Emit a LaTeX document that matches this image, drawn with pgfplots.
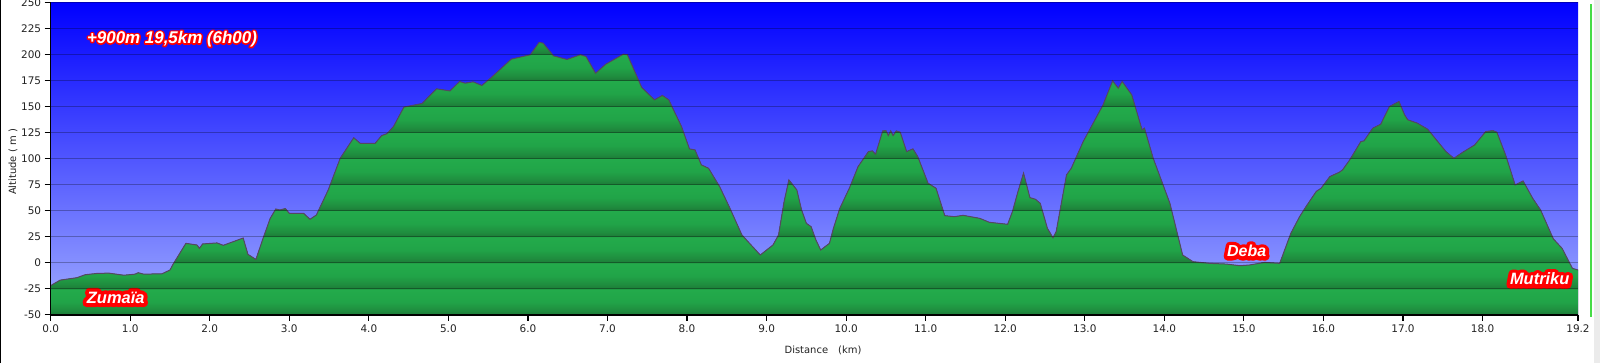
\documentclass[border=0pt]{standalone}
\usepackage{pgfplots}
\pgfplotsset{compat=1.18}
\usepackage{pgfplotstable}
\usepgfplotslibrary{fillbetween}
\usepackage{fontspec}
\setmainfont{DejaVu Sans}
\newfontface\labfont{Liberation Sans Bold Italic}
\newfontface\labthin{Liberation Sans Bold Italic}[RawFeature={embolden=17}]
\newfontface\labthick{Liberation Sans Bold Italic}[RawFeature={embolden=48}]

\definecolor{skytop}{RGB}{0,0,255}
\definecolor{skybot}{RGB}{160,172,255}
\definecolor{gbright}{RGB}{35,171,75}
\definecolor{gmid}{RGB}{33,164,72}
\definecolor{gdk2}{RGB}{31,140,62}
\definecolor{gdark}{RGB}{29,122,56}
\definecolor{profline}{RGB}{85,72,95}
\definecolor{ticktext}{RGB}{34,34,34}
\definecolor{edgegreen}{RGB}{70,220,70}

% bands of 25 m mapped onto the central 25bp..75bp of the shading (range -50..211.5)
\pgfdeclareverticalshading{bands}{100bp}{color(0bp)=(gdark);
color(25bp)=(gdark); color(25.76bp)=(gdk2); color(27.39bp)=(gmid); color(29.72bp)=(gbright);
color(29.78bp)=(gdark); color(30.54bp)=(gdk2); color(32.17bp)=(gmid); color(34.50bp)=(gbright);
color(34.56bp)=(gdark); color(35.32bp)=(gdk2); color(36.95bp)=(gmid); color(39.28bp)=(gbright);
color(39.34bp)=(gdark); color(40.10bp)=(gdk2); color(41.73bp)=(gmid); color(44.06bp)=(gbright);
color(44.12bp)=(gdark); color(44.88bp)=(gdk2); color(46.51bp)=(gmid); color(48.84bp)=(gbright);
color(48.90bp)=(gdark); color(49.66bp)=(gdk2); color(51.29bp)=(gmid); color(53.62bp)=(gbright);
color(53.68bp)=(gdark); color(54.44bp)=(gdk2); color(56.07bp)=(gmid); color(58.40bp)=(gbright);
color(58.46bp)=(gdark); color(59.22bp)=(gdk2); color(60.85bp)=(gmid); color(63.18bp)=(gbright);
color(63.24bp)=(gdark); color(64.00bp)=(gdk2); color(65.63bp)=(gmid); color(67.96bp)=(gbright);
color(68.02bp)=(gdark); color(68.78bp)=(gdk2); color(70.41bp)=(gmid); color(72.74bp)=(gbright);
color(72.80bp)=(gdark); color(73.56bp)=(gdk2); color(75.19bp)=(gmid); color(77.52bp)=(gbright);
color(100bp)=(gbright)}

\pgfplotstableread{
km alt
0.00 -22
0.12 -16.7
0.33 -14.4
0.435 -11.5
0.58 -10.3
0.73 -10
0.92 -12
1.06 -11
1.10 -9.6
1.17 -11
1.40 -10.6
1.50 -7
1.54 -1.3
1.70 18.6
1.84 17
1.87 13.8
1.91 18
2.09 19
2.17 16.7
2.42 23.7
2.48 8
2.58 3.2
2.67 23.4
2.76 42.6
2.83 51.6
2.88 50.6
2.95 52
3.00 47.4
3.18 47.4
3.26 41.7
3.34 45.8
3.49 70
3.64 100.3
3.81 120
3.89 114.7
4.08 114.7
4.16 122
4.23 124
4.31 130.8
4.44 149.4
4.67 152.9
4.75 159.3
4.85 167
5.02 165
5.14 174
5.21 172.4
5.31 173.7
5.42 170.2
5.54 177.9
5.79 195.5
6.03 199.7
6.14 211.5
6.19 210.9
6.32 198.7
6.49 195.2
6.66 199.7
6.73 198
6.85 182
6.98 190.7
7.20 200.3
7.25 199.7
7.43 168.3
7.59 156.4
7.69 160.6
7.77 156.4
7.93 130.8
8.03 109.3
8.10 108.3
8.18 93.9
8.27 90.7
8.41 73
8.53 53.8
8.69 26.6
8.92 7.4
9.08 17
9.15 26.6
9.22 58.7
9.28 79.5
9.38 69.9
9.44 50.6
9.50 37.8
9.56 34.6
9.62 21.8
9.68 12.2
9.79 18.6
9.84 33
9.92 52.2
10.04 71.5
10.15 92.3
10.28 106.7
10.33 107.4
10.37 104.2
10.46 126.6
10.50 126.9
10.53 122.1
10.56 126.6
10.59 122.1
10.63 126.6
10.68 125.3
10.76 106.7
10.84 109.3
10.90 101.9
11.03 76.3
11.13 71.5
11.24 45.2
11.36 44.2
11.47 45.5
11.68 42.6
11.80 38.8
12.03 36.9
12.09 49
12.16 68.3
12.23 86
12.31 62.5
12.38 60.9
12.44 57
12.53 33
12.60 24
12.64 29.8
12.77 84.3
12.83 90.7
12.98 116.3
13.23 151.6
13.35 174.7
13.42 167.6
13.47 174
13.59 161.2
13.72 127.6
13.75 129.2
13.86 100.3
14.07 57
14.23 7.4
14.36 1
14.57 -0.6
14.78 -1.3
14.95 -2.9
15.07 -2.2
15.26 0.3
15.45 -0.6
15.59 28.2
15.70 44.2
15.78 53.8
15.91 68.5
15.97 71.5
16.08 82.7
16.20 86.9
16.24 89.1
16.33 98.7
16.47 116.3
16.51 117
16.62 129.2
16.72 133
16.83 150
16.95 154.8
17.02 142
17.06 137.2
17.18 134
17.31 128.2
17.54 106.7
17.64 100.3
17.75 106
17.90 113
18.04 125.9
18.13 126.9
18.18 125.3
18.29 103.5
18.41 74.7
18.51 78.5
18.63 61.9
18.73 50.6
18.89 22.9
19.00 13.8
19.13 -5.4
19.20 -7
}\profile

% #1 x, #2 y, #3 halo font face, #4 size, #5 text
\newcommand\halo[5]{%
  \begin{scope}
  \pgfsetroundjoin
  \pgfsetroundcap
  \node[text=red, font={#3\fontsize{#4}{20}\selectfont}, inner sep=0pt, line join=round] at (#1,#2) {#5};
  \end{scope}
  \node[text=white, font={\labfont\fontsize{#4}{20}\selectfont}, inner sep=0pt] at (#1,#2) {#5};
}

\begin{document}
\begin{tikzpicture}[x=1bp,y=1bp]
\fill[black!8] (1594,0) rectangle (1600,363);
\draw[black, line width=1.2bp] (0.6,0) -- (0.6,363);
\begin{axis}[
  at={(63.7,46.3)}, anchor=south west,
  scale only axis, width=1527.3bp, height=312.4bp,
  xmin=0, xmax=19.2, ymin=-50, ymax=250,
  axis lines*=left,
  axis line style={black, line width=1.6bp},
  axis on top,
  axis background/.style={top color=skytop, bottom color=skybot},
  xtick={0,1,...,18,19.2},
  ytick={-50,-25,...,250},
  ymajorgrids,
  major grid style={black, opacity=0.28, line width=1bp},
  tick align=outside,
  major tick length=6bp,
  tick style={black, line width=1.2bp},
  xticklabel style={/pgf/number format/.cd, fixed, fixed zerofill, precision=1},
  yticklabel style={/pgf/number format/.cd, fixed, precision=0},
  /pgf/number format/assume math mode=true,
  ticklabel style={font=\fontsize{10.5}{12}\selectfont, text=ticktext},
]
\addplot[name path=prof, draw=none, forget plot] table[x=km, y=alt] {\profile};
\addplot[name path=base, draw=none, forget plot] coordinates {(0,-50) (19.2,-50)};
\addplot[shading=bands, draw=none] fill between[of=prof and base];
\addplot[profline, line width=1bp] table[x=km, y=alt] {\profile};
\end{axis}
\draw[edgegreen, line width=1.5bp] (1591,46.3) -- (1591,358.7);
\node[rotate=90, font=\fontsize{10}{12}\selectfont, text=ticktext] at (13,201) {Altitude ( m )};
\node[font=\fontsize{10}{12}\selectfont, text=ticktext] at (823,13) {Distance\hspace{10bp}(km)};
\halo{172}{324}{\labthin}{17}{+900m 19,5km (6h00)}
\halo{115.7}{65.5}{\labthick}{16.5}{Zumaïa}
\halo{1246.7}{112}{\labthick}{16}{Deba}
\halo{1539.7}{84}{\labthick}{16.5}{Mutriku}
\pgfresetboundingbox
\path[use as bounding box] (0,0) rectangle (1600,363);
\end{tikzpicture}
\end{document}
